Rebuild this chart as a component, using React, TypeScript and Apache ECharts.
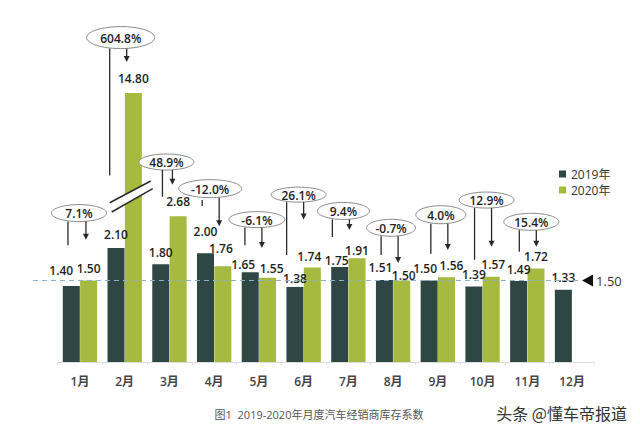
import React, { useEffect, useRef } from "react";
import * as echarts from "echarts";

// ---------------- data ----------------
const MONTHS = ["1月", "2月", "3月", "4月", "5月", "6月", "7月", "8月", "9月", "10月", "11月", "12月"];
const SERIES_NAMES = ["2019年", "2020年"];
const VALUES_2019 = [1.4, 2.1, 1.8, 2.0, 1.65, 1.38, 1.75, 1.51, 1.5, 1.39, 1.49, 1.33];
const VALUES_2020 = [1.5, 14.8, 2.68, 1.76, 1.55, 1.74, 1.91, 1.5, 1.56, 1.57, 1.72, null];
const YOY_LABELS = ["7.1%", "604.8%", "48.9%", "-12.0%", "-6.1%", "26.1%", "9.4%", "-0.7%", "4.0%", "12.9%", "15.4%"];
const REFERENCE_VALUE = 1.5;
const REFERENCE_LABEL = "1.50";
const TITLE_TEXT = "图1  2019-2020年月度汽车经销商库存系数";
const WATERMARK_TEXT = "头条 @懂车帝报道";

// ---------------- layout / styles ----------------
const COLOR_2019 = "#2e4745";
const COLOR_2020 = "#a5ba3e";
const FONT = '"Open Sans","Noto Sans CJK SC",sans-serif';
const AXIS_MAX = 4.95; // broken axis: taller bars are clipped at the top

// label nudges [dx, dy] per bar (hand placed in original)
const LABEL_SHIFT_2019 = [[-10, -3.5], [0, -1.5], [0, 0], [0, -9.5], [-7, 4.5], [0, 3.5], [-3, 5.5], [-4, 0], [-4, 0], [0, 0], [0, 0], [0, 0]];
const LABEL_SHIFT_2020 = [[0, 0], [0, -2.5], [0, -2.5], [-2, -5.5], [4, 2.5], [-3, 1], [0, 4.5], [2, 7], [5, 0], [2, 0], [0, 0], [0, 0]];

// annotation layout: horizontal offsets in px from category centre, vertical in axis units
const ANNOT = [
  { edx: -1, ev: 2.74, rx: 27.5, ry: 8.5, ldx: -12, lEnd: 2.15, adx: 6, aEnd: 2.25 },
  { edx: -4, ev: 5.97, rx: 34, ry: 11, ldx: -15, lEnd: 3.43, adx: 2, aEnd: 5.52 },
  { edx: -3, ev: 3.68, rx: 27.5, ry: 8, ldx: -7, lEnd: 3.04, adx: 3, aEnd: 3.26 },
  { edx: -4, ev: 3.19, rx: 31.5, ry: 9, ldx: -12, lStart: 2.98, lEnd: 2.87, adx: 5, aEnd: 2.5 },
  { edx: -2, ev: 2.62, rx: 28, ry: 8, ldx: -14, lEnd: 2.15, adx: 3, aEnd: 2.1 },
  { edx: -5, ev: 3.08, rx: 27.5, ry: 7.5, ldx: -17, lEnd: 1.97, adx: 0, aEnd: 2.62 },
  { edx: -5, ev: 2.78, rx: 26, ry: 8.5, ldx: -16, lEnd: 2.3, adx: 1, aEnd: 2.43 },
  { edx: -2, ev: 2.47, rx: 24.5, ry: 8.5, ldx: -12, lEnd: 1.97, adx: 5, aEnd: 1.82 },
  { edx: 3, ev: 2.71, rx: 25, ry: 9, ldx: -7, lEnd: 1.99, adx: 10, aEnd: 2.06 },
  { edx: 4, ev: 2.98, rx: 27.5, ry: 8, ldx: -8, lEnd: 1.88, adx: 9, aEnd: 2.12 },
  { edx: 4, ev: 2.58, rx: 27.5, ry: 8.5, ldx: -8, lEnd: 2.03, adx: 9, aEnd: 2.12 },
];

function barData(values: (number | null)[], shifts: number[][]) {
  return values.map((v, i) =>
    v == null ? null : { value: v, label: { offset: shifts[i] } }
  );
}

export default function App() {
  const ref = useRef<HTMLDivElement>(null);

  useEffect(() => {
    document.body.style.margin = "0";
    const chart = echarts.init(ref.current!, undefined, { renderer: "svg" });
    const labelStyle = {
      show: true,
      position: "top",
      distance: 5,
      fontFamily: FONT,
      fontSize: 12,
      lineHeight: 14,
      fontWeight: 600,
      color: "#1e1e1e",
      formatter: (p: any) => Number(p.value).toFixed(2),
    };
    chart.setOption({
      animation: false,
      backgroundColor: "#ffffff",
      legend: {
        data: SERIES_NAMES,
        orient: "vertical",
        left: 554,
        top: 163,
        itemWidth: 7,
        itemHeight: 7,
        itemGap: 4,
        icon: "rect",
        textStyle: { fontFamily: FONT, fontSize: 12, lineHeight: 12, color: "#333" },
      },
      grid: { left: 57.6, width: 536.8, top: 93, height: 269 },
      xAxis: {
        type: "category",
        data: MONTHS,
        axisLine: { lineStyle: { color: "#dcdcdc", width: 1 } },
        axisTick: { show: true, length: 3, lineStyle: { color: "#eadada" } },
        axisLabel: { margin: 12, fontFamily: FONT, fontSize: 12, lineHeight: 14, fontWeight: 600, color: "#444" },
      },
      yAxis: { type: "value", min: 0, max: AXIS_MAX, show: false, splitLine: { show: false } },
      series: [
        {
          name: SERIES_NAMES[0],
          type: "bar",
          barWidth: 17,
          barGap: "2%",
          itemStyle: { color: COLOR_2019 },
          label: labelStyle,
          data: barData(VALUES_2019, LABEL_SHIFT_2019),
        },
        {
          name: SERIES_NAMES[1],
          type: "bar",
          barWidth: 17,
          barGap: "2%",
          clip: true,
          itemStyle: { color: COLOR_2020 },
          label: labelStyle,
          data: barData(VALUES_2020, LABEL_SHIFT_2020),
        },
      ],
    });

    const px = (i: number) => chart.convertToPixel({ xAxisIndex: 0 }, MONTHS[i]) as number;
    const py = (v: number) => chart.convertToPixel({ yAxisIndex: 0 }, v) as number;
    const ink = "#2a2a2a";
    const g: any[] = [];

    // reference dashed line + marker
    const refY = py(REFERENCE_VALUE);
    const decX = px(MONTHS.length - 1);
    g.push({
      type: "line",
      shape: { x1: px(0) - 47, y1: refY, x2: decX + 6, y2: refY },
      style: { stroke: "#8fb1c9", lineWidth: 1.2, lineDash: [5, 4] },
      z: 5,
    });
    g.push({
      type: "polygon",
      shape: { points: [[decX + 10, refY], [decX + 21, refY - 6], [decX + 21, refY + 6]] },
      style: { fill: "#111" },
    });
    g.push({
      type: "text",
      x: decX + 24,
      y: refY + 1,
      style: { text: REFERENCE_LABEL, fontFamily: FONT, fontSize: 13, fill: "#333", align: "left", verticalAlign: "middle" },
    });

    // broken-axis marks on the February 2020 bar
    const fx = px(1);
    const p1 = [fx - 15, py(2.93)], p2 = [fx + 26, py(3.33)];
    const p3 = [fx - 13, py(2.76)], p4 = [fx + 28, py(3.19)];
    g.push({ type: "polygon", shape: { points: [p1, p2, p4, p3] }, style: { fill: "#fff" }, z: 10 });
    g.push({ type: "line", shape: { x1: p1[0], y1: p1[1], x2: p2[0], y2: p2[1] }, style: { stroke: ink, lineWidth: 1.5 }, z: 11 });
    g.push({ type: "line", shape: { x1: p3[0], y1: p3[1], x2: p4[0], y2: p4[1] }, style: { stroke: ink, lineWidth: 1.5 }, z: 11 });

    // YoY annotations
    ANNOT.forEach((a, i) => {
      const cx = px(i);
      const ex = cx + a.edx;
      const ey = py(a.ev);
      const bottom = ey + a.ry;
      g.push({
        type: "ellipse",
        shape: { cx: ex, cy: ey, rx: a.rx, ry: a.ry },
        style: { fill: "#fff", stroke: "#8a8a8a", lineWidth: 1 },
        z: 12,
      });
      g.push({
        type: "text",
        x: ex,
        y: ey + 0.5,
        z: 13,
        style: { text: YOY_LABELS[i], fontFamily: FONT, fontSize: 12, fontWeight: 600, fill: "#222", align: "center", verticalAlign: "middle" },
      });
      const ls = a.lStart != null ? py(a.lStart) : bottom;
      g.push({
        type: "line",
        shape: { x1: cx + a.ldx, y1: ls, x2: cx + a.ldx, y2: py(a.lEnd) },
        style: { stroke: ink, lineWidth: 1.3 },
        z: 12,
      });
      const ax = cx + a.adx;
      const tip = py(a.aEnd);
      g.push({
        type: "line",
        shape: { x1: ax, y1: bottom, x2: ax, y2: tip - 4 },
        style: { stroke: ink, lineWidth: 1.3 },
        z: 12,
      });
      g.push({
        type: "polygon",
        shape: { points: [[ax - 3, tip - 6], [ax + 3, tip - 6], [ax, tip]] },
        style: { fill: ink },
        z: 12,
      });
    });

    // caption + watermark
    g.push({
      type: "text",
      x: 319,
      y: 414,
      style: { text: TITLE_TEXT, fontFamily: FONT, fontSize: 11, fill: "#555", align: "center", verticalAlign: "middle" },
    });
    g.push({
      type: "text",
      x: 627,
      y: 413,
      style: { text: WATERMARK_TEXT, fontFamily: '"Noto Sans CJK SC",sans-serif', fontSize: 16, fill: "#333", align: "right", verticalAlign: "middle" },
    });

    chart.setOption({ graphic: g });
    return () => chart.dispose();
  }, []);

  return <div ref={ref} style={{ width: 640, height: 433 }} />;
}
